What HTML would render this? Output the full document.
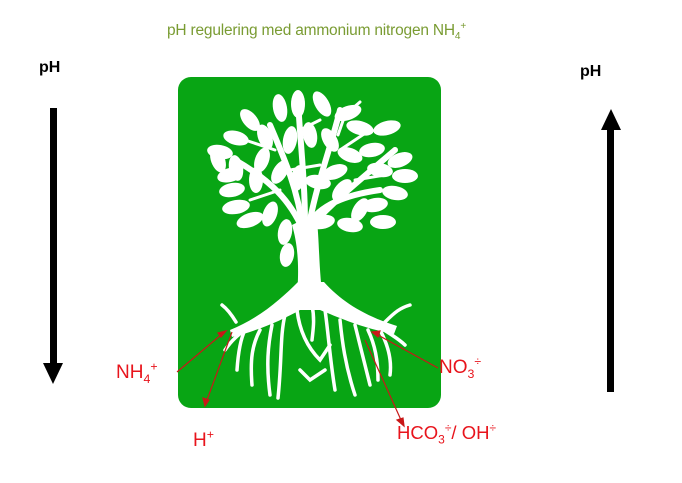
<!DOCTYPE html>
<html><head><style>
html,body{margin:0;padding:0;background:#fff;}
body{width:682px;height:483px;position:relative;overflow:hidden;font-family:"Liberation Sans",sans-serif;}
.t{position:absolute;white-space:nowrap;}
sub,sup{font-size:65%;line-height:0;}
</style></head><body>
<svg width="682" height="483" style="position:absolute;left:0;top:0">
<rect x="178" y="77" width="263" height="331" rx="13" fill="#08a514"/>
<g fill="#fff" stroke="none">
<path d="M296,305 C300,270 298,245 292,225 L316,213 C320,240 318,270 324,305 Z"/>
<path d="M230,330 C260,318 282,298 298,282 L324,282 C342,302 365,316 397,326 L394,334 C362,328 340,318 320,310 L300,310 C282,320 260,330 232,337 Z"/>
</g>
<g stroke="#fff" fill="none" stroke-linecap="round">
<g stroke-width="6">
<path d="M303,230 C290,200 270,180 235,160"/>
<path d="M303,230 C298,190 285,160 270,125"/>
<path d="M305,225 C305,180 300,140 298,100"/>
<path d="M310,220 C318,180 330,150 340,110"/>
<path d="M312,225 C335,200 360,180 395,150"/>
<path d="M308,225 C320,205 345,195 380,190"/>
</g>
<g stroke-width="3">
<path d="M280,190 L250,200"/><path d="M290,170 L320,165"/>
<path d="M340,150 L370,130"/><path d="M355,180 L385,175"/>
<path d="M275,150 L245,140"/><path d="M300,130 L320,120"/>
<path d="M338,135 L345,115 L360,102"/>
</g>
<g stroke-width="3.5">
<path d="M236,322 C230,312 226,308 222,305"/><path d="M245,330 C240,340 238,355 237,370"/>
<path d="M260,330 C252,345 250,360 252,385"/><path d="M272,325 C268,345 266,365 270,395"/>
<path d="M285,315 C280,335 282,360 278,398"/><path d="M297,310 C300,335 310,350 320,360 L330,345"/>
<path d="M312,305 C315,320 313,330 312,340"/><path d="M325,310 C328,330 330,360 335,390"/>
<path d="M340,320 C342,340 345,365 355,395"/><path d="M355,325 C360,345 365,365 370,385"/>
<path d="M368,330 C375,345 378,360 378,380"/><path d="M380,330 C388,345 392,360 390,375"/>
<path d="M385,322 C395,312 400,308 410,305"/><path d="M375,325 C385,330 400,340 405,345"/>
<path d="M245,330 C238,335 232,340 225,350"/><path d="M300,370 L310,380 L325,370"/>
</g>
</g>
<g fill="#fff">
<ellipse cx="280" cy="108" rx="7" ry="14" transform="rotate(-10 280 108)"/>
<ellipse cx="298" cy="104" rx="7" ry="14"/>
<ellipse cx="322" cy="104" rx="7" ry="14" transform="rotate(-30 322 104)"/>
<ellipse cx="348" cy="113" rx="14" ry="7" transform="rotate(-20 348 113)"/>
<ellipse cx="360" cy="128" rx="14" ry="7" transform="rotate(15 360 128)"/>
<ellipse cx="387" cy="128" rx="14" ry="7" transform="rotate(-15 387 128)"/>
<ellipse cx="250" cy="120" rx="7" ry="13" transform="rotate(-40 250 120)"/>
<ellipse cx="265" cy="137" rx="7" ry="13" transform="rotate(-20 265 137)"/>
<ellipse cx="290" cy="140" rx="7" ry="14" transform="rotate(10 290 140)"/>
<ellipse cx="310" cy="135" rx="7" ry="13" transform="rotate(-10 310 135)"/>
<ellipse cx="330" cy="140" rx="7" ry="13" transform="rotate(-30 330 140)"/>
<ellipse cx="236" cy="138" rx="13" ry="7" transform="rotate(15 236 138)"/>
<ellipse cx="220" cy="152" rx="13" ry="7" transform="rotate(10 220 152)"/>
<ellipse cx="218" cy="160" rx="7" ry="13" transform="rotate(-20 218 160)"/>
<ellipse cx="236" cy="168" rx="7" ry="13" transform="rotate(-10 236 168)"/>
<ellipse cx="232" cy="190" rx="13" ry="7" transform="rotate(-10 232 190)"/>
<ellipse cx="236" cy="207" rx="14" ry="7" transform="rotate(-10 236 207)"/>
<ellipse cx="250" cy="220" rx="14" ry="7" transform="rotate(-20 250 220)"/>
<ellipse cx="256" cy="180" rx="7" ry="13"/>
<ellipse cx="262" cy="160" rx="7" ry="13" transform="rotate(20 262 160)"/>
<ellipse cx="270" cy="214" rx="7" ry="13" transform="rotate(20 270 214)"/>
<ellipse cx="285" cy="232" rx="7" ry="13" transform="rotate(10 285 232)"/>
<ellipse cx="280" cy="172" rx="7" ry="13" transform="rotate(30 280 172)"/>
<ellipse cx="298" cy="178" rx="7" ry="13" transform="rotate(10 298 178)"/>
<ellipse cx="318" cy="182" rx="13" ry="7" transform="rotate(10 318 182)"/>
<ellipse cx="335" cy="172" rx="13" ry="7" transform="rotate(-20 335 172)"/>
<ellipse cx="342" cy="190" rx="7" ry="13" transform="rotate(40 342 190)"/>
<ellipse cx="350" cy="155" rx="13" ry="7" transform="rotate(20 350 155)"/>
<ellipse cx="372" cy="150" rx="13" ry="7" transform="rotate(-10 372 150)"/>
<ellipse cx="380" cy="170" rx="13" ry="7" transform="rotate(10 380 170)"/>
<ellipse cx="400" cy="160" rx="13" ry="7" transform="rotate(-20 400 160)"/>
<ellipse cx="405" cy="176" rx="13" ry="7"/>
<ellipse cx="395" cy="193" rx="13" ry="7" transform="rotate(10 395 193)"/>
<ellipse cx="375" cy="205" rx="13" ry="7" transform="rotate(-10 375 205)"/>
<ellipse cx="360" cy="210" rx="7" ry="13" transform="rotate(30 360 210)"/>
<ellipse cx="350" cy="225" rx="13" ry="7" transform="rotate(10 350 225)"/>
<ellipse cx="383" cy="222" rx="13" ry="7"/>
<ellipse cx="322" cy="222" rx="13" ry="7" transform="rotate(-10 322 222)"/>
<ellipse cx="287" cy="255" rx="7" ry="12" transform="rotate(10 287 255)"/>
<ellipse cx="230" cy="175" rx="13" ry="7" transform="rotate(-15 230 175)"/>
</g>
<g fill="#000">
<rect x="50" y="108" width="7" height="258"/>
<polygon points="43,363 63,363 53,384"/>
<rect x="607" y="127" width="7" height="265"/>
<polygon points="601,130 621,130 611,109"/>
</g>
<g stroke="#c81818" stroke-width="1.2" fill="#c81818">
<line x1="177" y1="372" x2="222" y2="334"/><polygon points="226,331 218,333 221,337"/>
<line x1="232" y1="332" x2="207" y2="400"/><polygon points="205,406 203,398 209,400"/>
<line x1="438" y1="368" x2="378" y2="335"/><polygon points="372,332 380,331 378,337"/>
<line x1="365" y1="340" x2="401" y2="420"/><polygon points="404,426 397,420 403,418"/>
</g>
</svg>
<div class="t" style="left:167px;top:22px;font-size:15.5px;color:#7a9c33;letter-spacing:-0.2px;">pH regulering med ammonium nitrogen NH<sub>4</sub><sup>+</sup></div>
<div class="t" style="left:39px;top:59px;font-size:16px;font-weight:bold;">pH</div>
<div class="t" style="left:580px;top:63px;font-size:16px;font-weight:bold;">pH</div>
<div class="t" style="left:116px;top:362px;font-size:19px;color:#e8141c;">NH<sub>4</sub><sup>+</sup></div>
<div class="t" style="left:439px;top:357px;font-size:19px;color:#e8141c;">NO<sub>3</sub><sup>÷</sup></div>
<div class="t" style="left:193px;top:430px;font-size:19px;color:#e8141c;">H<sup>+</sup></div>
<div class="t" style="left:397px;top:422px;font-size:18.5px;color:#e8141c;">HCO<sub>3</sub><sup>÷</sup>/ OH<sup>÷</sup></div>
</body></html>
